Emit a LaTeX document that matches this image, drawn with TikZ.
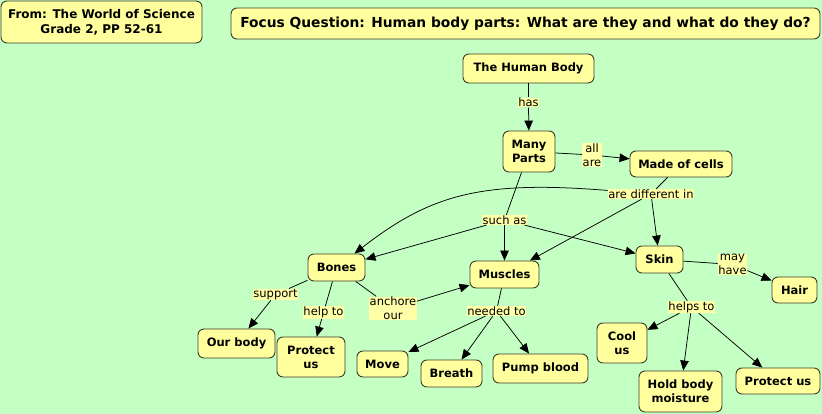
\documentclass[tikz,border=0pt]{standalone}
\usepackage{fontspec}
\setmainfont{DejaVu Sans}
\usetikzlibrary{arrows.meta}
\definecolor{bg}{RGB}{196,255,196}
\definecolor{nodefill}{RGB}{255,255,158}
\definecolor{lblfill}{RGB}{255,255,168}
\definecolor{nodeline}{RGB}{60,60,40}
\tikzset{
  concept/.style={draw=nodeline, fill=nodefill, rounded corners=6pt, line width=0.9pt,
    align=center, inner sep=1pt, font=\fontsize{11.5}{14}\selectfont\bfseries},
  linkword/.style={fill=lblfill, align=center, inner sep=0.5pt,
    font=\fontsize{11.5}{14}\selectfont},
  link/.style={draw=black, line width=0.75pt},
  arrowlink/.style={link, -{Triangle[length=10pt,width=8.5pt]}}
}
\begin{document}
\begin{tikzpicture}[x=1pt,y=-1pt]
\fill[bg] (0,0) rectangle (822,414);
\useasboundingbox (0,0) rectangle (822,414);

% header nodes
\node[concept, minimum width=201, minimum height=42, font=\fontsize{12}{15}\selectfont\bfseries] (from) at (101.5,22) {From: The World of Science\\Grade 2, PP 52-61};
\node[concept, minimum width=589, minimum height=31, font=\fontsize{13.8}{16}\selectfont\bfseries] (focus) at (525.5,23.5) {Focus Question: Human body parts: What are they and what do they do?};

% concepts
\node[concept, minimum width=131, minimum height=29] (hb) at (528.5,68.5) {The Human Body};
\node[concept, minimum width=52, minimum height=41] (mp) at (529,151.5) {Many\\Parts};
\node[concept, minimum width=102, minimum height=26] (cells) at (681,164) {Made of cells};
\node[concept, minimum width=47, minimum height=27] (skin) at (659.5,259.5) {Skin};
\node[concept, minimum width=45, minimum height=26] (hair) at (794.5,290) {Hair};
\node[concept, minimum width=50, minimum height=40] (cool) at (622,343) {Cool\\us};
\node[concept, minimum width=83, minimum height=41] (hold) at (680.5,391.5) {Hold body\\moisture};
\node[concept, minimum width=84, minimum height=26] (protr) at (778,381) {Protect us};
\node[concept, minimum width=57, minimum height=27] (bones) at (336.5,267.5) {Bones};
\node[concept, minimum width=69, minimum height=27] (muscles) at (504.5,274.5) {Muscles};
\node[concept, minimum width=77, minimum height=29] (ourbody) at (236.5,343.5) {Our body};
\node[concept, minimum width=68, minimum height=40] (protl) at (311,357) {Protect\\us};
\node[concept, minimum width=51, minimum height=26] (move) at (382.5,364) {Move};
\node[concept, minimum width=61, minimum height=27] (breath) at (451.5,373.5) {Breath};
\node[concept, minimum width=95, minimum height=29] (pump) at (540.5,368.5) {Pump blood};

% linking words
\node[linkword] (has) at (528.5,102.5) {has};
\node[linkword] (allare) at (592,155) {all\\are};
\node[linkword] (adi) at (651,194) {are different in};
\node[linkword] (suchas) at (504.5,220) {such as};
\node[linkword] (mayhave) at (732.5,264.5) {may\\have};
\node[linkword] (helpsto) at (691.5,307) {helps to};
\node[linkword] (support) at (275.5,294.5) {support};
\node[linkword] (helpto) at (323.5,312.5) {help to};
\node[linkword] (anchore) at (393,308.5) {anchore\\our};
\node[linkword] (neededto) at (496.5,311) {needed to};

% connectors
\draw[link] (hb) -- (has);
\draw[arrowlink] (has) -- (mp);
\draw[link] (mp) -- (allare);
\draw[arrowlink] (allare) -- (cells);
\draw[link] (cells) -- (adi);
\draw[arrowlink] (adi) -- (skin);
\draw[arrowlink] (adi) -- (muscles);
\draw[arrowlink] (adi) .. controls (480,180) and (430,195) .. (bones);
\draw[link] (mp) -- (suchas);
\draw[arrowlink] (suchas) -- (bones);
\draw[arrowlink] (suchas) -- (muscles);
\draw[arrowlink] (suchas) -- (skin);
\draw[link] (skin) -- (mayhave);
\draw[arrowlink] (mayhave) -- (hair);
\draw[link] (skin) -- (helpsto);
\draw[arrowlink] (helpsto) -- (cool);
\draw[arrowlink] (helpsto) -- (hold);
\draw[arrowlink] (helpsto) -- (protr);
\draw[link] (bones) -- (support);
\draw[arrowlink] (support) -- (ourbody);
\draw[link] (bones) -- (helpto);
\draw[arrowlink] (helpto) -- (protl);
\draw[link] (bones) -- (anchore);
\draw[arrowlink] (anchore) -- (muscles);
\draw[link] (muscles) -- (neededto);
\draw[arrowlink] (neededto) -- (move);
\draw[arrowlink] (neededto) -- (breath);
\draw[arrowlink] (neededto) -- (pump);
\end{tikzpicture}
\end{document}
